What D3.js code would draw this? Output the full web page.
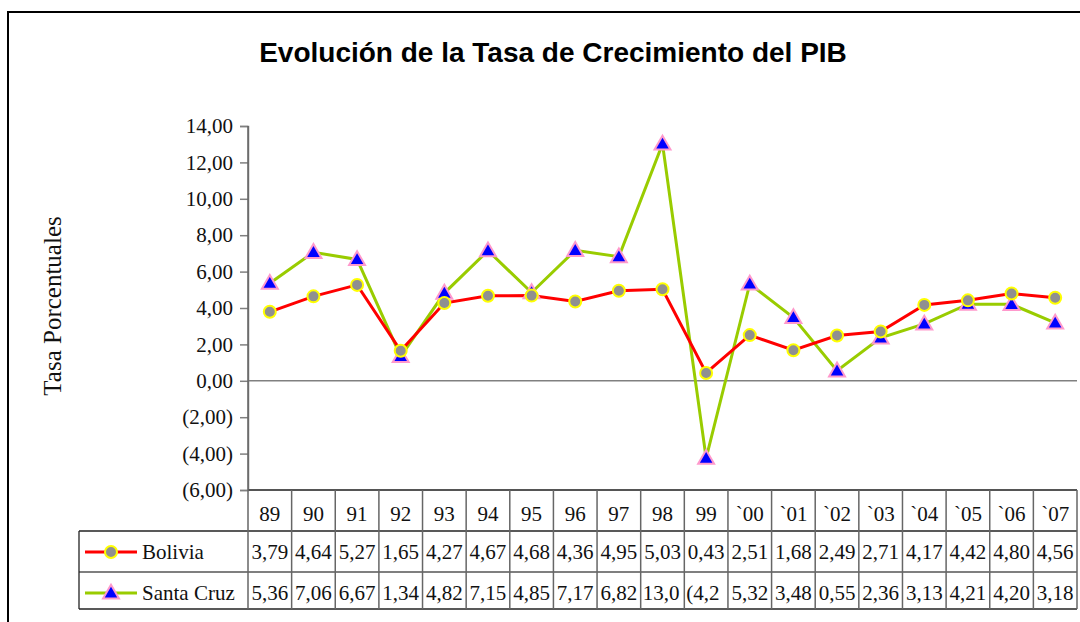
<!DOCTYPE html>
<html>
<head>
<meta charset="utf-8">
<script src="https://cdn.jsdelivr.net/npm/d3@7"></script>
<style>
  body { margin: 0; background: #fff; }
  .serif { font-family: "Liberation Serif", "DejaVu Serif", serif; }
</style>
</head>
<body>
<svg id="chart" width="1080" height="622"></svg>
<script>
const years = ["89", "90", "91", "92", "93", "94", "95", "96", "97", "98", "99",
    "`00", "`01", "`02", "`03", "`04", "`05", "`06", "`07"];
const bolivia = [3.79, 4.64, 5.27, 1.65, 4.27, 4.67, 4.68, 4.36, 4.95, 5.03, 0.43,
    2.51, 1.68, 2.49, 2.71, 4.17, 4.42, 4.80, 4.56];
const santaCruz = [5.36, 7.06, 6.67, 1.34, 4.82, 7.15, 4.85, 7.17, 6.82, 13.02, -4.25,
    5.32, 3.48, 0.55, 2.36, 3.13, 4.21, 4.20, 3.18];
const yTicks = [-6, -4, -2, 0, 2, 4, 6, 8, 10, 12, 14];

const series = [
    { name: "Bolivia", values: bolivia, line: "#ff0000", shape: "circle", fill: "#909090", stroke: "#ffff00" },
    { name: "Santa Cruz", values: santaCruz, line: "#99cc00", shape: "triangle", fill: "#0000ff", stroke: "#ff99cc" }
];

const svg = d3.select("#chart");

// Outer frame (runs off the right and bottom edges)
svg.append("rect")
    .attr("x", 8).attr("y", 12)
    .attr("width", 1100).attr("height", 640)
    .attr("fill", "none").attr("stroke", "#000").attr("stroke-width", 2);

svg.append("text")
    .attr("x", 553).attr("y", 62)
    .attr("text-anchor", "middle")
    .style("font-family", "Liberation Sans, Arial, sans-serif")
    .style("font-weight", "bold").style("font-size", "28px")
    .text("Evolución de la Tasa de Crecimiento del PIB");

const x = d3.scaleBand().domain(years).range([248, 1077]).padding(0);
const y = d3.scaleLinear().domain([-6, 14]).range([490, 126]);

const fmt = v => {
    const s = d3.format(".2f")(Math.abs(v)).replace(".", ",");
    return v < 0 ? "(" + s + ")" : s;
};

// Y axis
const yAxis = svg.append("g")
    .attr("transform", "translate(248,0)")
    .call(d3.axisLeft(y).tickValues(yTicks).tickSize(8).tickPadding(7).tickFormat(fmt));
yAxis.select(".domain").attr("stroke", "#808080").attr("stroke-width", 1.5);
yAxis.selectAll(".tick line").attr("stroke", "#808080").attr("stroke-width", 1.5);
yAxis.selectAll("text")
    .attr("class", "serif")
    .style("font-size", "21px").attr("fill", "#111");

svg.append("text")
    .attr("class", "serif")
    .attr("transform", "translate(61,306) rotate(-90)")
    .attr("text-anchor", "middle")
    .style("font-size", "25px").attr("fill", "#111")
    .text("Tasa Porcentuales");

// Zero line
svg.append("line")
    .attr("x1", 248).attr("x2", 1077)
    .attr("y1", y(0)).attr("y2", y(0))
    .attr("stroke", "#808080").attr("stroke-width", 1.5);

// Data table
const rowTop = [490, 531, 572, 609];
const table = svg.append("g");

table.append("line")
    .attr("x1", 248).attr("x2", 1077).attr("y1", rowTop[0]).attr("y2", rowTop[0])
    .attr("stroke", "#555").attr("stroke-width", 2);
[1, 2, 3].forEach(i => {
    table.append("line")
        .attr("x1", 79).attr("x2", 1077).attr("y1", rowTop[i]).attr("y2", rowTop[i])
        .attr("stroke", i === 2 ? "#555" : "#222").attr("stroke-width", 1.3);
});
table.append("line")
    .attr("x1", 79).attr("x2", 79).attr("y1", rowTop[1]).attr("y2", rowTop[3])
    .attr("stroke", "#222").attr("stroke-width", 1.3);

const bounds = years.map(d => x(d)).concat([x.range()[1]]);
table.selectAll(".vline")
    .data(bounds)
    .enter().append("line")
    .attr("class", "vline")
    .attr("x1", d => d).attr("x2", d => d)
    .attr("y1", (d, i) => i === 0 ? y(14) : rowTop[0]).attr("y2", rowTop[3])
    .attr("stroke", "#666").attr("stroke-width", 1.5);

table.selectAll(".year")
    .data(years)
    .enter().append("text")
    .attr("class", "serif")
    .attr("x", d => x(d) + x.bandwidth() / 2)
    .attr("y", 521)
    .attr("text-anchor", "middle")
    .style("font-size", "21px").attr("fill", "#111")
    .text(d => d);

const rowBase = [559, 600];
series.forEach((s, r) => {
    table.selectAll(".val" + r)
        .data(s.values)
        .enter().append("text")
        .attr("class", "serif")
        .attr("x", (d, i) => x(years[i]) + x.bandwidth() / 2)
        .attr("y", rowBase[r])
        .attr("text-anchor", "middle")
        .style("font-size", "21px").attr("fill", "#111")
        .text(d => fmt(d))
        .each(function(d, i) {
            // too wide for the cell: cut characters from the right, like the sheet does
            const el = d3.select(this);
            let t = fmt(d);
            if (this.getComputedTextLength() > x.bandwidth() - 2) {
                el.attr("text-anchor", "start").attr("x", x(years[i]) + 2);
                while (t.length > 1 && this.getComputedTextLength() > x.bandwidth() - 3) {
                    t = t.slice(0, -1);
                    el.text(t);
                }
            }
        });
    // legend key
    const ly = rowBase[r] - 7;
    table.append("line")
        .attr("x1", 85).attr("x2", 137).attr("y1", ly).attr("y2", ly)
        .attr("stroke", s.line).attr("stroke-width", 3);
    drawMarker(table, s, 111, ly);
    table.append("text")
        .attr("class", "serif")
        .attr("x", 142).attr("y", rowBase[r])
        .style("font-size", "21px").attr("fill", "#111")
        .text(s.name);
});

function drawMarker(g, s, cx, cy) {
    if (s.shape === "circle") {
        g.append("circle")
            .attr("cx", cx).attr("cy", cy).attr("r", 6)
            .attr("fill", s.fill).attr("stroke", s.stroke).attr("stroke-width", 2);
    } else {
        g.append("path")
            .attr("d", d3.symbol(d3.symbolTriangle, 110)())
            .attr("transform", "translate(" + cx + "," + (cy + 1) + ")")
            .attr("fill", s.fill).attr("stroke", s.stroke).attr("stroke-width", 2);
    }
}

// Lines and markers
const line = d3.line()
    .x((d, i) => x(years[i]) + x.bandwidth() / 2)
    .y(d => y(d));

series.slice().reverse().forEach(s => {
    svg.append("path")
        .datum(s.values)
        .attr("d", line)
        .attr("fill", "none").attr("stroke", s.line).attr("stroke-width", 3);
});
series.slice().reverse().forEach(s => {
    const g = svg.append("g");
    s.values.forEach((v, i) => drawMarker(g, s, x(years[i]) + x.bandwidth() / 2, y(v)));
});
</script>
</body>
</html>
